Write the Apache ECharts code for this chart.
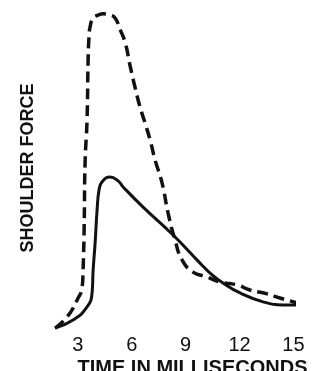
<!DOCTYPE html>
<html>
<head>
<meta charset="utf-8">
<script src="https://cdn.jsdelivr.net/npm/echarts@6/dist/echarts.min.js"></script>
<style>
  html, body { margin: 0; padding: 0; background: #fff; }
  #main { width: 315px; height: 371px; }
</style>
</head>
<body>
<div id="main"></div>
<script>
// time (ms) and relative shoulder force
var solidTime  = [1.73, 2.73, 3.51, 3.79, 3.85, 3.96, 4.07, 4.18, 4.35, 4.79, 5.24, 5.52, 6.63, 8.30, 9.80, 10.36, 11.08, 12.03, 13.31, 14.64, 15.48];
var solidForce = [0.6, 3.1, 7.2, 11.6, 18.8, 27.2, 37.5, 43.8, 46.3, 47.8, 46.6, 44.7, 38.4, 29.7, 20.9, 17.8, 14.7, 11.6, 8.8, 7.8, 7.8];

var dashTime  = [1.73, 2.40, 2.96, 3.24, 3.29, 3.35, 3.40, 3.51, 3.57, 3.62, 3.68, 3.85, 4.13, 4.40, 4.79, 5.07, 5.36, 5.64, 5.92, 6.18, 6.46, 6.74, 7.02, 7.30, 7.69, 8.02, 8.41, 8.80, 9.41, 10.19, 10.91, 11.86, 12.58, 13.53, 14.25, 15.25];
var dashForce = [0.6, 4.1, 9.4, 13.4, 18.8, 32.2, 52.2, 65.6, 84.4, 91.6, 94.7, 97.5, 98.4, 98.8, 98.4, 97.5, 93.8, 89.7, 82.2, 75.9, 69.7, 64.7, 59.4, 53.1, 45.9, 36.6, 28.1, 21.9, 18.1, 16.6, 15.0, 14.1, 12.5, 11.3, 10.0, 8.4];

var xTicks = [3, 6, 9, 12, 15];

function pairs(xs, ys) {
  return xs.map(function (x, i) { return [x, ys[i]]; });
}

var myChart = echarts.init(document.getElementById('main'));

var option = {
  backgroundColor: '#fff',
  animation: false,
  grid: { left: 24, right: 21.6, top: 10, bottom: 41 },
  xAxis: {
    type: 'value',
    min: 0,
    max: 15,
    interval: 3,
    axisLine: { show: false },
    axisTick: { show: false },
    splitLine: { show: false },
    axisLabel: {
      margin: 5,
      color: '#111',
      fontSize: 20,
      fontFamily: 'Liberation Sans, Arial, sans-serif',
      formatter: function (v) { return xTicks.indexOf(v) >= 0 ? String(v) : ''; }
    }
  },
  yAxis: {
    type: 'value',
    min: 0,
    max: 100,
    show: false
  },
  graphic: [
    {
      type: 'text',
      x: 28,
      y: 168,
      rotation: Math.PI / 2,
      style: {
        text: 'SHOULDER FORCE',
        font: 'bold 18px Liberation Sans, Arial, sans-serif',
        fill: '#111',
        align: 'center',
        verticalAlign: 'middle'
      }
    },
    {
      type: 'text',
      x: 192.5,
      y: 368,
      style: {
        text: 'TIME IN MILLISECONDS',
        font: 'bold 20px Liberation Sans, Arial, sans-serif',
        fill: '#111',
        align: 'center',
        verticalAlign: 'middle'
      }
    }
  ],
  series: [
    {
      name: 'dashed',
      type: 'line',
      data: pairs(dashTime, dashForce),
      smooth: 0.5,
      showSymbol: false,
      clip: false,
      lineStyle: { color: '#111', width: 3.5, type: [11, 6] }
    },
    {
      name: 'solid',
      type: 'line',
      data: pairs(solidTime, solidForce),
      smooth: 0.5,
      showSymbol: false,
      clip: false,
      lineStyle: { color: '#111', width: 3 }
    }
  ]
};

myChart.setOption(option, true);
</script>
</body>
</html>
